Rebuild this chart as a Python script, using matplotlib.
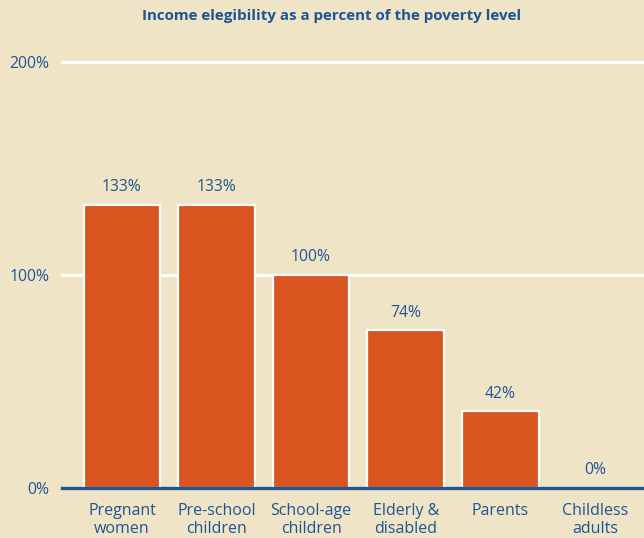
import matplotlib.pyplot as plt

plt.rcParams["font.family"] = ["Open Sans", "DejaVu Sans"]

# 데이터
categories = ["Pregnant\nwomen", "Pre-school\nchildren", "School-age\nchildren",
              "Elderly &\ndisabled", "Parents", "Childless\nadults"]
heights = [133, 133, 100, 74, 36, 0]
value_labels = ["133%", "133%", "100%", "74%", "42%", "0%"]
yticks = [0, 100, 200]
ytick_labels = ["0%", "100%", "200%"]

BG = "#F0E4C6"
BAR = "#D9541E"
BLUE = "#1D5595"

fig = plt.figure(figsize=(6.44, 5.38), dpi=100, facecolor=BG)
ax = fig.add_axes([62 / 644, 1 - 488 / 538, 1 - 62 / 644, (488 - 62) / 538])
ax.set_facecolor(BG)

x = range(len(categories))
for yv in yticks[1:]:
    ax.axhline(yv, color="white", linewidth=2.2, zorder=1, clip_on=False)

ax.bar(x, heights, width=0.81, color=BAR, edgecolor="white", linewidth=1.6, zorder=2)

for xi, h, lab in zip(x, heights, value_labels):
    ax.annotate(lab, (xi, h), xytext=(0, 7), textcoords="offset points",
                ha="center", va="bottom", color=BLUE, fontsize=11.3)

ax.set_xlim(-0.634, 5.52)
ax.set_ylim(0, 200)
ax.set_xticks(list(x))
ax.set_xticklabels(categories, color=BLUE, fontsize=11.5, linespacing=1.15)
ax.set_yticks(yticks)
ax.set_yticklabels(ytick_labels, color=BLUE, fontsize=11.3)
ax.tick_params(axis="both", length=0)
ax.tick_params(axis="x", pad=11)
ax.tick_params(axis="y", pad=9)

for side in ["top", "right", "left"]:
    ax.spines[side].set_visible(False)
ax.spines["bottom"].set_color(BLUE)
ax.spines["bottom"].set_linewidth(2.4)
ax.spines["bottom"].set_zorder(3)

fig.text(332 / 644, 1 - 16 / 538, "Income elegibility as a percent of the poverty level",
         ha="center", va="center", color=BLUE, fontsize=10.9, fontweight="bold")

fig.savefig("out.png", dpi=100, facecolor=BG)
